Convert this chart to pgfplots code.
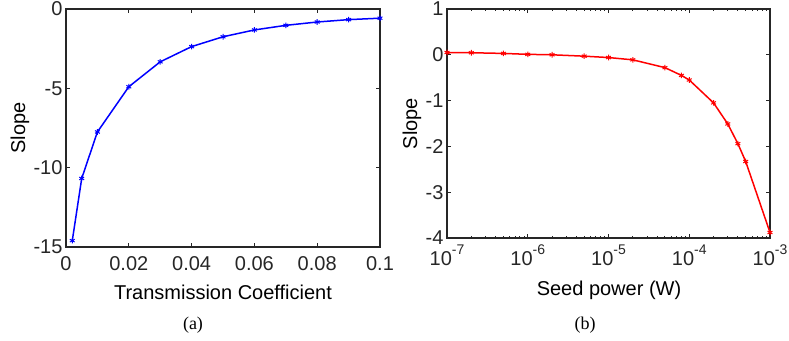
\documentclass[border=0pt]{standalone}
\usepackage{fontspec}
\setmainfont{Liberation Sans}
\newfontfamily\capfont{Liberation Serif}
\usepackage{pgfplots}
\pgfplotsset{compat=1.18}
\definecolor{axgray}{RGB}{38,38,38}
\newcommand{\pw}[1]{10\raisebox{11bp}{\fontsize{14bp}{14bp}\selectfont #1}}
\pgfplotsset{
  mystyle/.style={
    scale only axis,
    axis line style={axgray, line width=1.3bp},
    every tick/.style={axgray, line width=1bp},
    tick align=inside,
    xtick pos=both, ytick pos=both,
    major tick length=4bp,
    minor tick length=2.5bp,
    tick label style={font=\fontsize{20bp}{24bp}\selectfont, text=axgray},
    /pgf/number format/assume math mode=true,
    clip=false,
  }
}
\begin{document}
\begin{tikzpicture}[x=1bp,y=1bp]
\path[use as bounding box] (0,0) rectangle (789,340);
% ---------- (a) ----------
\begin{axis}[mystyle,
  at={(66bp,93bp)}, anchor=south west,
  width=314bp, height=238bp,
  xmin=0, xmax=0.1, ymin=-15, ymax=0,
  xtick={0,0.02,0.04,0.06,0.08,0.1},
  xticklabels={0,0.02,0.04,0.06,0.08,0.1},
  ytick={-15,-10,-5,0},
  yticklabels={-15,-10,-5,0},
  xticklabel style={yshift=-6.5bp},
]
\addplot[blue, line width=1.5bp, mark=asterisk, mark size=2.8bp, mark options={line width=1bp}] coordinates {
(0.002,-14.6) (0.005,-10.68) (0.01,-7.75) (0.02,-4.9) (0.03,-3.33) (0.04,-2.37)
(0.05,-1.75) (0.06,-1.32) (0.07,-1.03) (0.08,-0.82) (0.09,-0.67) (0.1,-0.58)
};
\end{axis}
% ---------- (b) ----------
\begin{axis}[mystyle,
  at={(447bp,102bp)}, anchor=south west,
  width=323bp, height=229bp,
  xmode=log,
  xmin=1e-7, xmax=1e-3, ymin=-4, ymax=1,
  xtick={1e-7,1e-6,1e-5,1e-4,1e-3},
  xticklabels={\pw{-7},\pw{-6},\pw{-5},\pw{-4},\pw{-3}},
  minor xtick={2e-7,3e-7,4e-7,5e-7,6e-7,7e-7,8e-7,9e-7,
               2e-6,3e-6,4e-6,5e-6,6e-6,7e-6,8e-6,9e-6,
               2e-5,3e-5,4e-5,5e-5,6e-5,7e-5,8e-5,9e-5,
               2e-4,3e-4,4e-4,5e-4,6e-4,7e-4,8e-4,9e-4},
  ytick={-4,-3,-2,-1,0,1},
  yticklabels={-4,-3,-2,-1,0,1},
  xticklabel style={yshift=-3bp},
]
\addplot[red, line width=1.5bp, mark=asterisk, mark size=2.8bp, mark options={line width=1bp}] coordinates {
(1e-7,0.05) (2e-7,0.045) (5e-7,0.03) (1e-6,0.01) (2e-6,0.0) (5e-6,-0.03)
(1e-5,-0.06) (2e-5,-0.11) (5e-5,-0.28) (8e-5,-0.45) (1e-4,-0.55) (2e-4,-1.05)
(3e-4,-1.51) (4e-4,-1.94) (5e-4,-2.33) (1e-3,-3.88)
};
\end{axis}
% labels
\node[anchor=base, font=\fontsize{20bp}{24bp}\selectfont, text=black] at (223,41) {Transmission Coefficient};
\node[anchor=base, font=\fontsize{20bp}{24bp}\selectfont, text=black] at (609,45) {Seed power (W)};
\node[anchor=base, rotate=90, font=\fontsize{20bp}{24bp}\selectfont, text=black] at (25,212) {Slope};
\node[anchor=base, rotate=90, font=\fontsize{20bp}{24bp}\selectfont, text=black] at (417,216.5) {Slope};
\node[anchor=base, font=\capfont\fontsize{18bp}{22bp}\selectfont] at (193,11) {(a)};
\node[anchor=base, font=\capfont\fontsize{18bp}{22bp}\selectfont] at (585,11) {(b)};
\end{tikzpicture}
\end{document}
